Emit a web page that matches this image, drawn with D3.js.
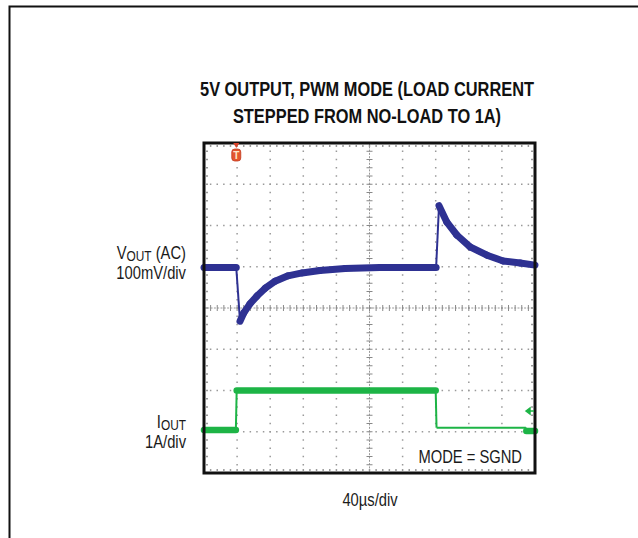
<!DOCTYPE html>
<html>
<head>
<meta charset="utf-8">
<script src="https://cdn.jsdelivr.net/npm/d3@7"></script>
<style>
  body { margin: 0; background: #fff; }
  svg { display: block; }
  text { font-family: "Liberation Sans Narrow", "Arial Narrow", "Liberation Sans", Arial, sans-serif; fill: #1a1a1a; }
</style>
</head>
<body>
<div id="scope"></div>
<script>
// scope settings (per division)
var timePerDiv = 40;   // us
var voltPerDiv = 100;  // mV
var ampPerDiv = 1;     // A

// VOUT (AC) trace, mV from the centre graticule line
var voutTime = [0, 39, 43.5, 48, 55.5, 64, 74, 86, 101.5, 118.5, 140, 170.5, 212.5, 280.5, 284, 293.5, 305.5, 321.5, 342, 361.5, 382, 400];
var voutMv   = [98, 98, -32, -12, 10, 29, 48, 65, 78, 85, 91, 96, 98, 98, 248, 208, 177, 148, 128, 114, 109, 104];

// IOUT trace, amps
var ioutTime = [0, 38.5, 39.5, 280, 281, 389, 389.5, 400];
var ioutAmp  = [0.04, 0.04, 1.0, 1.0, 0.1, 0.1, 0.02, 0.02];
// part of the IOUT trace the scope drew thin (no noise band)
var ioutThin = [281, 389];

var titleLines = ["5V OUTPUT, PWM MODE (LOAD CURRENT", "STEPPED FROM NO-LOAD TO 1A)"];

var width = 638, height = 538;
var plot = { left: 204, right: 535, top: 143, bottom: 473 };
var narrow = 0.82;  // no narrow font installed, squeeze Liberation Sans instead

var svg = d3.select("#scope").append("svg")
  .attr("width", width)
  .attr("height", height);

// outer box (right and bottom run off the page)
svg.append("path")
  .attr("d", "M9.5," + height + "V6.5H" + width)
  .attr("fill", "none")
  .attr("stroke", "#111")
  .attr("stroke-width", 2);

// scales
var x = d3.scaleLinear().domain([0, 10 * timePerDiv]).range([plot.left, plot.right]);
var yV = d3.scaleLinear().domain([-4 * voltPerDiv, 4 * voltPerDiv]).range([plot.bottom, plot.top]);
var yI = d3.scaleLinear().domain([-1 * ampPerDiv, 7 * ampPerDiv]).range([plot.bottom, plot.top]);
var xDiv = d3.scaleLinear().domain([0, 10]).range(x.range());
var yDiv = d3.scaleLinear().domain([-4, 4]).range(yV.range());

//===============================================
// graticule
var grid = svg.append("g").attr("class", "grid");
var minorX = d3.range(0, 10.001, 0.2);
var minorY = d3.range(-4, 4.001, 0.2);

// dotted vertical lines
[1, 2, 3, 4, 6, 7, 8, 9].forEach(function (i) {
  grid.selectAll(null).data(minorY).enter().append("rect")
    .attr("x", xDiv(i) - 0.75).attr("y", function (d) { return yDiv(d) - 0.75; })
    .attr("width", 1.5).attr("height", 1.5).attr("fill", "#9a9a9a");
});
// dotted horizontal lines
[-3, -2, -1, 1, 2, 3].forEach(function (j) {
  grid.selectAll(null).data(minorX).enter().append("rect")
    .attr("x", function (d) { return xDiv(d) - 0.75; }).attr("y", yDiv(j) - 0.75)
    .attr("width", 1.5).attr("height", 1.5).attr("fill", "#9a9a9a");
});

// centre lines with small ticks
grid.append("line")
  .attr("x1", plot.left).attr("x2", plot.right).attr("y1", yDiv(0)).attr("y2", yDiv(0))
  .attr("stroke", "#9a9a9a").attr("stroke-width", 1).attr("stroke-dasharray", "2,1.3");
grid.append("line")
  .attr("x1", xDiv(5)).attr("x2", xDiv(5)).attr("y1", plot.top).attr("y2", plot.bottom)
  .attr("stroke", "#9a9a9a").attr("stroke-width", 1).attr("stroke-dasharray", "2,1.3");
grid.selectAll(null).data(minorX).enter().append("line")
  .attr("x1", function (d) { return xDiv(d); }).attr("x2", function (d) { return xDiv(d); })
  .attr("y1", yDiv(0) - 3).attr("y2", yDiv(0) + 3)
  .attr("stroke", "#888").attr("stroke-width", 1);
grid.selectAll(null).data(minorY).enter().append("line")
  .attr("y1", function (d) { return yDiv(d); }).attr("y2", function (d) { return yDiv(d); })
  .attr("x1", xDiv(5) - 3).attr("x2", xDiv(5) + 3)
  .attr("stroke", "#888").attr("stroke-width", 1);

// dots just inside the frame
grid.selectAll(null).data(minorX).enter().append("rect")
  .attr("x", function (d) { return xDiv(d) - 0.75; }).attr("y", plot.top + 2)
  .attr("width", 1.5).attr("height", 2).attr("fill", "#9a9a9a");
grid.selectAll(null).data(minorX).enter().append("rect")
  .attr("x", function (d) { return xDiv(d) - 0.75; }).attr("y", plot.bottom - 4)
  .attr("width", 1.5).attr("height", 2).attr("fill", "#9a9a9a");
grid.selectAll(null).data(minorY).enter().append("rect")
  .attr("y", function (d) { return yDiv(d) - 0.75; }).attr("x", plot.left + 2)
  .attr("width", 2).attr("height", 1.5).attr("fill", "#9a9a9a");
grid.selectAll(null).data(minorY).enter().append("rect")
  .attr("y", function (d) { return yDiv(d) - 0.75; }).attr("x", plot.right - 4)
  .attr("width", 2).attr("height", 1.5).attr("fill", "#9a9a9a");

// white patch behind the mode note
svg.append("rect")
  .attr("x", 410).attr("y", 433).attr("width", plot.right - 412).attr("height", 35)
  .attr("fill", "#fff");

//===============================================
// traces: steep edges are thin, flat parts carry the noise band
function drawTrace(times, vals, yScale, color, bandWidth, thinRange) {
  var g = svg.append("g");
  for (var k = 0; k < times.length - 1; k++) {
    var x1 = x(times[k]), x2 = x(times[k + 1]);
    var y1 = yScale(vals[k]), y2 = yScale(vals[k + 1]);
    var steep = Math.abs(y2 - y1) > 3 * Math.abs(x2 - x1);
    var thin = steep || (thinRange && times[k] >= thinRange[0] && times[k + 1] <= thinRange[1]);
    g.append("line")
      .attr("x1", x1).attr("y1", y1).attr("x2", x2).attr("y2", y2)
      .attr("stroke", color)
      .attr("stroke-width", thin ? 2 : bandWidth)
      .attr("stroke-linecap", thin ? "butt" : "round");
  }
}
drawTrace(voutTime, voutMv, yV, "#2e3192", 7, null);
drawTrace(ioutTime, ioutAmp, yI, "#1db446", 6.5, ioutThin);

// frame
svg.append("rect")
  .attr("x", plot.left).attr("y", plot.top)
  .attr("width", plot.right - plot.left).attr("height", plot.bottom - plot.top)
  .attr("fill", "none").attr("stroke", "#111").attr("stroke-width", 3);

// trigger marker
var trig = svg.append("g").attr("transform", "translate(" + x(39) + ",0)");
trig.append("path").attr("d", "M-3,143L3,143L0,148Z").attr("fill", "#d9432a");
trig.append("rect").attr("x", -4.5).attr("y", 149).attr("width", 9).attr("height", 12).attr("rx", 3)
  .attr("fill", "#e4572e").attr("stroke", "#c2391f").attr("stroke-width", 0.8);
trig.append("text").attr("x", 0).attr("y", 159).attr("text-anchor", "middle")
  .attr("font-size", 10).attr("font-weight", "bold").style("fill", "#fde7c8").text("T");

// IOUT channel marker
svg.append("path")
  .attr("d", "M526,411L530,408L530,414Z M529,411H534")
  .attr("fill", "#1db446").attr("stroke", "#1db446").attr("stroke-width", 1.5);

//===============================================
// text, squeezed horizontally to look like Arial Narrow
function label(px, py, anchor, size) {
  return svg.append("g")
    .attr("transform", "translate(" + px + "," + py + ") scale(" + narrow + ",1)")
    .append("text")
    .attr("text-anchor", anchor)
    .attr("font-size", size);
}

titleLines.forEach(function (d, i) {
  label(367, 96 + i * 27, "middle", 20)
    .attr("font-weight", "bold")
    .style("fill", "#111")
    .text(d);
});

var vlab = label(186, 259, "end", 18);
vlab.append("tspan").text("V");
vlab.append("tspan").attr("font-size", 14.5).attr("dy", 1.5).text("OUT");
vlab.append("tspan").attr("dy", -1.5).text(" (AC)");
label(186, 279, "end", 18).text(voltPerDiv + "mV/div");

var ilab = label(186, 428, "end", 18);
ilab.append("tspan").text("I");
ilab.append("tspan").attr("font-size", 14.5).attr("dy", 1.5).text("OUT");
label(186, 448, "end", 18).text(ampPerDiv + "A/div");

label(522, 463, "end", 18).text("MODE = SGND");

label(370, 506, "middle", 18).text(timePerDiv + "\u00b5s/div");
</script>
</body>
</html>
